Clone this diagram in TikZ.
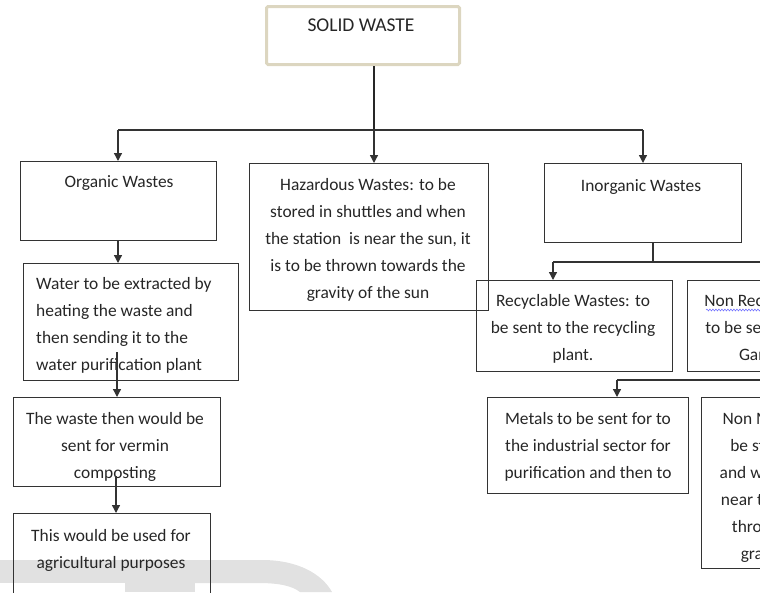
\documentclass[tikz,border=0pt]{standalone}
\usepackage{fontspec}
\setmainfont{Carlito}
\usetikzlibrary{arrows.meta,decorations.pathmorphing}
\definecolor{wm}{HTML}{E1E1E1}
\definecolor{beige}{HTML}{DCD6C0}
\definecolor{lc}{HTML}{333333}
\definecolor{tc}{HTML}{262626}
\begin{document}
\begin{tikzpicture}[x=1pt,y=-1pt,
  box/.style={draw=lc,line width=1.3pt,rectangle,inner sep=0pt,anchor=north west},
  txt/.style={inner sep=0pt,anchor=north,align=center,text=tc,font=\fontsize{17.4}{27}\selectfont},
  ltxt/.style={inner sep=0pt,anchor=north west,align=left,text=tc,font=\fontsize{17.4}{27}\selectfont},
  conn/.style={draw=lc,line width=1.3pt},
  arr/.style={conn,-{Triangle[width=8pt,length=8pt]}}]
\useasboundingbox (0,0) rectangle (760,592);
\clip (0,0) rectangle (760,592);
% watermark
\fill[wm] (0,560) rectangle (195,583);
\fill[wm] (125,583) rectangle (195,592);
\fill[wm] (195,560) -- (262,560) .. controls (298,560) and (322,574) .. (332,592)
  -- (300,592) .. controls (292,586) and (280,583) .. (258,583) -- (195,583) -- cycle;
% boxes
\node[box,draw=beige,line width=3pt,rounded corners=1.5pt,minimum width=193pt,minimum height=58pt] (sw) at (265,5) {};
\node[txt,font=\fontsize{19.5}{27}\selectfont] (swt) at (361,19) {SOLID WASTE};
\node[box,minimum width=196pt,minimum height=79pt] (org) at (20,161) {};
\node[txt] (orgt) at (119,175) {Organic Wastes};
\node[box,minimum width=239pt,minimum height=147pt] (haz) at (249,163) {};
\node[txt] (hazt) at (368,178) {Hazardous Wastes: to be\\stored in shuttles and when\\the station\ \ is near the sun, it\\is to be thrown towards the\\gravity of the sun};
\node[box,minimum width=197pt,minimum height=79pt] (inorg) at (544,163) {};
\node[txt] (inorgt) at (641,179) {Inorganic Wastes};
\node[box,minimum width=215pt,minimum height=117pt] (water) at (23,263) {};
\node[ltxt] (watert) at (36,277) {Water to be extracted by\\heating the waste and\\then sending it to the\\water purification plant};
\node[box,minimum width=207pt,minimum height=89pt] (verm) at (13,397) {};
\node[txt] (vermt) at (115,412) {The waste then would be\\sent for vermin\\composting};
\node[box,minimum width=197pt,minimum height=100pt] (agri) at (13,513) {};
\node[txt] (agrit) at (111,529) {This would be used for\\agricultural purposes};
\node[box,minimum width=196pt,minimum height=91pt] (rec) at (476,280) {};
\node[txt] (rect) at (573,294) {Recyclable Wastes: to\\be sent to the recycling\\plant.};
\node[box,minimum width=200pt,minimum height=91pt] (nrec) at (687,280) {};
\node[txt] (nrect) at (788,294) {Non Recyclable Wastes:\\to be sent to the Waste\\Garbage Unit.};
\node[box,minimum width=201pt,minimum height=96pt] (met) at (487,397) {};
\node[txt] (mett) at (588,412) {Metals to be sent for to\\the industrial sector for\\purification and then to};
\node[box,minimum width=200pt,minimum height=171pt] (nmet) at (701,397) {};
\node[txt] (nmett) at (802,412) {Non Metals wastes: to\\be stored in shuttles\\and when the station is\\near the sun, it is to be\\thrown towards the\\gravity of the sun};
\coordinate (wv1) at (706,310);
\coordinate (wv2) at (770,310);
\draw[draw=blue!55!white,line width=0.6pt,decorate,decoration={snake,amplitude=0.9pt,segment length=3pt}] (wv1) -- (wv2);
% connectors
\coordinate (j1) at (374,130);
\coordinate (bl) at (118,130);
\coordinate (br) at (643,130);
\draw[conn,line width=2.6pt,draw=black!85] (sw.south -| j1) -- (j1);
\draw[conn] (bl) -- (br);
\draw[arr] (bl) -- (bl |- org.north);
\draw[arr] (j1) -- (j1 |- haz.north);
\draw[arr] (br) -- (br |- inorg.north);
\coordinate (j2) at (653,262);
\coordinate (j2l) at (553,262);
\coordinate (j2r) at (780,262);
\draw[conn] (inorg.south -| j2) -- (j2);
\draw[conn] (j2l) -- (j2r);
\draw[arr] (j2l) -- (j2l |- rec.north);
\coordinate (j3l) at (617,380);
\coordinate (j3r) at (780,380);
\draw[conn] (j3l) -- (j3r);
\draw[arr] (j3l) -- (j3l |- met.north);
\draw[arr] (bl |- org.south) -- (bl |- water.north);
\coordinate (w2) at (117,352);
\draw[arr] (w2) -- (w2 |- verm.north);
\coordinate (v2) at (116,476);
\draw[arr] (v2) -- (v2 |- agri.north);
\end{tikzpicture}
\end{document}
